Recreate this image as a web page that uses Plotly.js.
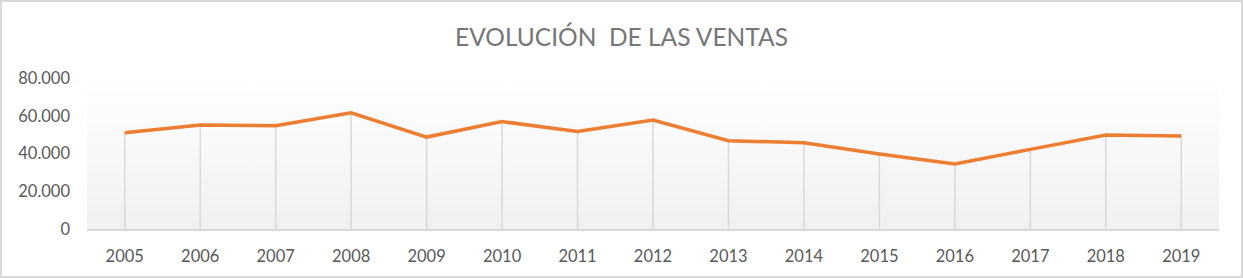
<!DOCTYPE html>
<html>
<head>
<meta charset="utf-8">
<script src="https://cdn.plot.ly/plotly-3.0.1.min.js"></script>
<style>
  html, body { margin: 0; padding: 0; background: #ffffff; }
  #wrap { position: relative; width: 1243px; height: 278px; }
  #chart { width: 1243px; height: 278px; }
  #frame { position: absolute; left: 0; top: 0; width: 1243px; height: 278px; box-sizing: border-box; border: 2px solid #d9d9d9; pointer-events: none; }
</style>
</head>
<body>
<div id="wrap"><div id="chart"></div><div id="frame"></div></div>
<script>
const years = ["2005","2006","2007","2008","2009","2010","2011","2012","2013","2014","2015","2016","2017","2018","2019"];
const ventas = [51000, 55100, 54700, 61600, 48700, 56900, 51600, 57700, 46800, 45700, 39700, 34400, 42200, 49800, 49300];
const titleText = "EVOLUCIÓN  DE LAS VENTAS";
const yTicks = [0, 20000, 40000, 60000, 80000];

const FONT = "Lato, Calibri, 'Open Sans', sans-serif";

const gradSvg = '<svg xmlns="http://www.w3.org/2000/svg" width="100" height="100" preserveAspectRatio="none">' +
  '<defs><linearGradient id="g" x1="0" y1="0" x2="0" y2="1">' +
  '<stop offset="0" stop-color="#ffffff"/><stop offset="1" stop-color="#f0f0f0"/>' +
  '</linearGradient></defs><rect width="100" height="100" fill="url(#g)"/></svg>';
const gradUri = "data:image/svg+xml;base64," + btoa(gradSvg);

const dropLines = {
  x: years, y: ventas, type: "scatter", mode: "markers",
  marker: { size: 1, opacity: 0 },
  error_y: { type: "data", symmetric: false, array: ventas.map(() => 0), arrayminus: ventas,
             color: "#d9d9d9", thickness: 1.5, width: 0 },
  hoverinfo: "skip", showlegend: false
};
const line = {
  x: years, y: ventas, type: "scatter", mode: "lines",
  line: { color: "#ED7D31", width: 3.5 },
  showlegend: false
};

const layout = {
  width: 1243, height: 278,
  margin: { l: 87, r: 24, t: 78, b: 49 },
  paper_bgcolor: "#ffffff", plot_bgcolor: "rgba(0,0,0,0)",
  separators: ",.",
  title: { text: titleText, font: { family: FONT, size: 24.5, color: "#767676" },
           x: 0.5, xanchor: "center", y: 1 - 37/278, yref: "container", yanchor: "middle" },
  xaxis: { type: "category", range: [-0.5, 14.5], showgrid: false, zeroline: false,
           showline: true, linecolor: "#d9d9d9", linewidth: 2, ticks: "",
           ticklabelstandoff: 11,
           tickfont: { family: FONT, size: 16.5, color: "#595959" }, fixedrange: true },
  yaxis: { range: [0, 80000], tickvals: yTicks, tickformat: ",d", showgrid: false, zeroline: false,
           showline: false, ticks: "", ticklabelstandoff: 16,
           tickfont: { family: FONT, size: 16.5, color: "#595959" }, fixedrange: true },
  images: [{ source: gradUri, xref: "paper", yref: "paper", x: 0, y: 1, sizex: 1, sizey: 1,
             sizing: "stretch", xanchor: "left", yanchor: "top", layer: "below" }]
};

Plotly.newPlot("chart", [dropLines, line], layout, { displayModeBar: false, staticPlot: true });
</script>
</body>
</html>
